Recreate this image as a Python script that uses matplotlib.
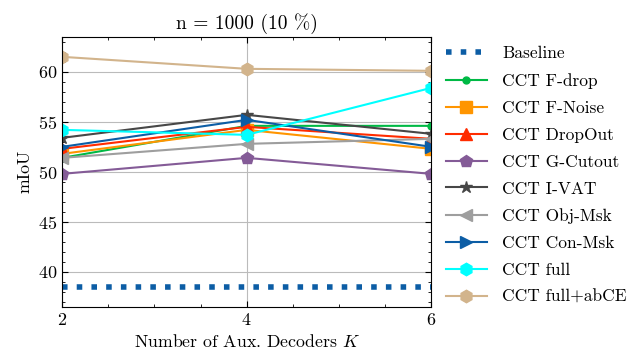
import numpy as np
import matplotlib
matplotlib.use('Agg')
import matplotlib.pyplot as plt
from matplotlib.ticker import MultipleLocator, AutoMinorLocator

plt.rcParams['font.family'] = 'serif'
plt.rcParams['font.serif'] = ['cmr10', 'DejaVu Serif']
plt.rcParams['mathtext.fontset'] = 'cm'
plt.rcParams['axes.formatter.use_mathtext'] = True

decoders = [2, 4, 6]
baseline = 38.5
f_drop = [51.4, 54.6, 54.6]
f_noise = [51.8, 54.2, 52.3]
dropout = [52.3, 54.5, 53.3]
g_cutout = [49.8, 51.4, 49.8]
i_vat = [53.4, 55.7, 53.8]
obj_msk = [51.4, 52.8, 53.3]
con_msk = [52.5, 55.2, 52.5]
full = [54.2, 53.7, 58.4]
full_abce = [61.5, 60.3, 60.1]

series = [
    ('CCT F-drop', f_drop, '#00B945', 'o', 5),
    ('CCT F-Noise', f_noise, '#FF9500', 's', 9),
    ('CCT DropOut', dropout, '#FF2C00', '^', 9),
    ('CCT G-Cutout', g_cutout, '#845B97', 'p', 9),
    ('CCT I-VAT', i_vat, '#474747', '*', 9),
    ('CCT Obj-Msk', obj_msk, '#9e9e9e', '<', 9),
    ('CCT Con-Msk', con_msk, '#0C5DA5', '>', 9),
    ('CCT full', full, '#00FFFF', 'h', 9),
    ('CCT full+abCE', full_abce, '#D2B48C', 'h', 9),
]

fig = plt.figure(figsize=(6.27, 3.54), dpi=100)
ax = fig.add_axes([0.099, 0.133, 0.589, 0.763])

ax.plot(decoders, [baseline] * len(decoders), ':', color='#0C5DA5', lw=4, label='Baseline')
for name, vals, c, m, ms in series:
    ax.plot(decoders, vals, color=c, marker=m, ms=ms, lw=1.5, label=name)

ax.set_xlim(2, 6)
ax.set_ylim(36.5, 63.5)
ax.set_xticks(decoders)
ax.yaxis.set_major_locator(MultipleLocator(5))
ax.yaxis.set_minor_locator(MultipleLocator(1))
ax.xaxis.set_minor_locator(AutoMinorLocator(4))
ax.tick_params(which='both', direction='in', top=True, right=True, labelsize=13)
ax.tick_params(which='major', length=4)
ax.tick_params(which='minor', length=2)
ax.grid(True, which='major', color='#bbbbbb', lw=0.8)

ax.set_title('n = 1000 (10 %)', fontsize=14)
ax.set_xlabel('Number of Aux. Decoders $K$', fontsize=12.8)
ax.set_ylabel('mIoU', fontsize=12.8)

ax.legend(loc='upper left', bbox_to_anchor=(1.02, 0.992), borderaxespad=0, frameon=False,
          fontsize=12.5, handlelength=2.35, handletextpad=0.9, labelspacing=0.67)

fig.savefig('out.png', dpi=100)
